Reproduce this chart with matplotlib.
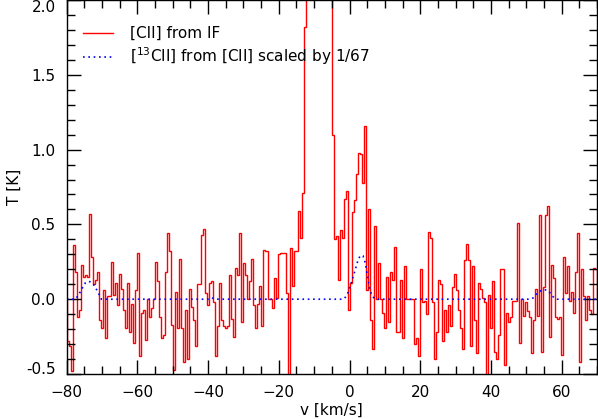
import numpy as np
import matplotlib
matplotlib.use("Agg")
import matplotlib.pyplot as plt
from matplotlib.ticker import MultipleLocator

# [CII] spectrum, one value per channel starting at v0, step dv (K)
v0 = -80.0
dv = 0.568
cii = [
    # -80 .. -60
    -0.28, -0.31, -0.48, 0.36, 0.18, -0.12, -0.07, 0.23, 0.15, 0.16,
    0.15, 0.57, 0.28, 0.10, 0.13, 0.18, -0.14, -0.19, 0.06, -0.26,
    0.02, 0.02, 0.25, 0.03, 0.11, -0.04, 0.17, 0.07, -0.07, -0.19,
    0.11, -0.22, -0.03, -0.29, 0.06, 0.31,
    # -60 .. -17
    -0.38, -0.09, -0.07, -0.27, 0.0, -0.12, -0.06, 0.0, 0.25, 0.12,
    -0.12, -0.26, -0.24, 0.18, 0.44, 0.32, -0.17, -0.47, 0.05, -0.19,
    0.27, -0.19, -0.42, -0.07, -0.40, 0.07, -0.05, -0.14, -0.31, 0.10,
    0.10, 0.43, 0.47, 0.04, -0.04, 0.11, 0.12, -0.02, -0.38, -0.18,
    0.11, -0.14, -0.18, -0.19, -0.18, 0.16, -0.13, -0.25, 0.21, 0.16,
    0.44, -0.15, 0.24, 0.16, 0.0, 0.12, 0.27, -0.04, -0.19, -0.03,
    0.09, -0.18, 0.33, 0.32, 0.0, 0.0, -0.06, 0.14, 0.01, 0.30,
    0.31, 0.31, 0.31,
    # -17 .. -13, rise of the line
    0.04, -0.60, 0.34, 0.09, 0.32, 0.32, 0.59, 0.41, 0.71, 1.82,
    # main line (clipped in the plot)
    2.6, 4.1, 6.0, 7.8, 9.2, 9.9, 9.6, 8.7, 7.1, 5.4, 3.8, 2.7, 2.2,
    1.10,
    # -4 .. 19
    0.40, 0.42, 0.13, 0.46, 0.41, 0.67, 0.72, -0.07, 0.11, 0.58,
    0.66, 0.84, 0.98, 0.97, 0.78, 1.16, 0.06, 0.60, -0.14, -0.33,
    0.49, 0.0, 0.24, 0.0, -0.09, -0.19, 0.15, -0.15, 0.18, 0.13,
    0.35, -0.22, -0.22, 0.13, -0.26, 0.22, 0.0, 0.0, 0.0, 0.0,
    -0.30,
    # 19 .. 44
    -0.26, -0.38, 0.20, -0.02, -0.01, -0.10, 0.45, 0.41, -0.02, -0.40,
    -0.22, 0.13, 0.10, -0.28, -0.07, -0.22, -0.04, -0.18, 0.08, 0.17,
    0.06, -0.07, -0.19, -0.33, 0.26, 0.37, 0.26, -0.31, 0.22, -0.14,
    -0.36, 0.11, 0.07, 0.01, -0.02, -0.60, 0.03, -0.19, 0.12, -0.35,
    -0.40, -0.24, 0.20, 0.20,
    # 44 .. 70
    -0.44, -0.09, -0.15, -0.12, -0.01, -0.01, 0.51, -0.29, 0.0, -0.11,
    -0.02, -0.08, -0.12, -0.36, -0.14, 0.07, -0.11, 0.56, -0.35, 0.08,
    0.56, 0.62, -0.25, 0.23, 0.14, -0.12, -0.13, -0.12, -0.37, 0.28,
    0.04, 0.22, -0.01, 0.05, -0.09, 0.18, 0.44, -0.42, 0.20, 0.02,
    -0.14, 0.02, -0.07, -0.10, 0.21, 0.20,
]

# [13CII] from [CII] scaled by 1/67 (smooth curve)
c13_v = [-80, -77.5, -76.6, -75.7, -74.7, -73.8, -72.8, -71.9, -70.9, -70.2,
         -40, -39, -38, -2, -1.4, -0.5, 0.5, 1.4, 2.4, 3.0, 3.8, 4.5, 5.1,
         5.7, 6.4, 7.1, 8, 51.1, 52.1, 53.0, 54.0, 54.9, 55.9, 56.8, 57.8,
         58.7, 70]
c13_t = [0, 0, 0.03, 0.07, 0.11, 0.12, 0.11, 0.08, 0.035, 0.0,
         0.0, 0.01, 0.0, 0.0, 0.005, 0.04, 0.11, 0.18, 0.26, 0.29, 0.29, 0.24, 0.15,
         0.07, 0.02, 0.005, 0.0, 0.0, 0.01, 0.04, 0.055, 0.065, 0.06, 0.04, 0.01,
         0.0, 0.0]

plt.rcParams['font.family'] = 'DejaVu Sans'
plt.rcParams['font.size'] = 11

fig = plt.figure(figsize=(5.98, 4.19), dpi=100)
ax = fig.add_axes([66.7 / 598, 1 - 374 / 419, (597 - 66.7) / 598, 374 / 419])

edges = v0 + dv * np.arange(len(cii) + 1)
ax.stairs(cii, edges, color='red', lw=1.0, label='[CII] from IF')
ax.plot(c13_v, c13_t, color='blue', lw=1.2, dashes=(1, 2.2),
        label='[$^{13}$CII] from [CII] scaled by 1/67')

ax.set_xlim(-80, 70)
ax.set_ylim(-0.5, 2.0)
ax.xaxis.set_major_locator(MultipleLocator(20))
ax.xaxis.set_minor_locator(MultipleLocator(5))
ax.yaxis.set_major_locator(MultipleLocator(0.5))
ax.yaxis.set_minor_locator(MultipleLocator(0.1))
ax.yaxis.set_major_formatter(matplotlib.ticker.FormatStrFormatter('%.1f'))
ax.tick_params(which='both', direction='in', top=True, right=True, width=1)
ax.tick_params(which='major', length=10, pad=8)
ax.tick_params(which='minor', length=6)
for s in ax.spines.values():
    s.set_linewidth(1)

ax.set_xlabel('v [km/s]', labelpad=2)
ax.set_ylabel('T [K]')
ax.yaxis.set_label_coords(-0.085, 0.5)

ax.legend(loc='upper left', bbox_to_anchor=(0.03, 0.93), frameon=False,
          handlelength=2.0, handletextpad=1.1, labelspacing=0.3,
          borderpad=0, borderaxespad=0)

# keep the end labels inside the figure, as in the original
fig.canvas.draw()
for lab in ax.get_yticklabels():
    if lab.get_text() == '2.0':
        lab.set_va('top')
    if lab.get_text() in ('−0.5', '-0.5'):
        lab.set_va('baseline')

fig.savefig('out.png', dpi=100)
